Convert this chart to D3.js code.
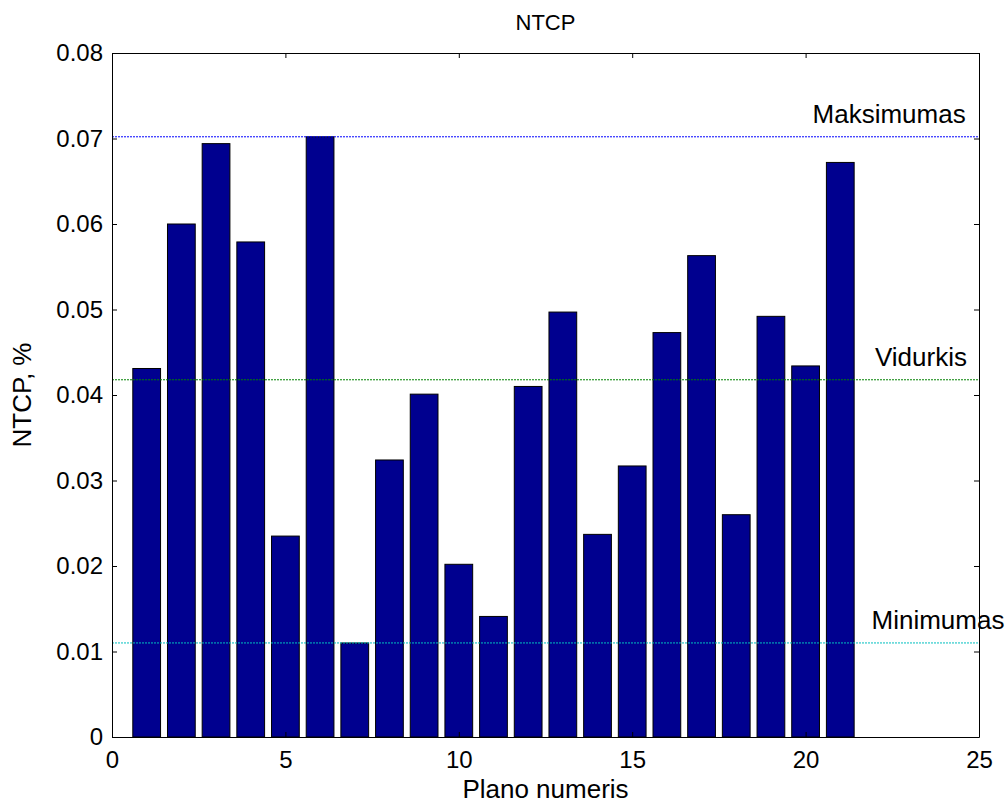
<!DOCTYPE html>
<html>
<head>
<meta charset="utf-8">
<script src="https://cdn.jsdelivr.net/npm/d3@7"></script>
<style>
  html, body { margin: 0; padding: 0; background: #fff; }
  svg text { font-family: "Liberation Sans", Arial, Helvetica, sans-serif; fill: #000; }
</style>
</head>
<body>
<svg id="chart" width="1006" height="806"></svg>
<script>
// Plan numbers and their NTCP values (%)
const planNumbers = d3.range(1, 22);
const ntcpValues = [
  0.0431, 0.0600, 0.0694, 0.0579, 0.0235, 0.0702, 0.0110, 0.0324, 0.0401, 0.0202,
  0.0141, 0.0410, 0.0497, 0.0237, 0.0317, 0.0473, 0.0563, 0.0260, 0.0492, 0.0434,
  0.0672
];
const xTicks = [0, 5, 10, 15, 20, 25];
const yTicks = [0, 0.01, 0.02, 0.03, 0.04, 0.05, 0.06, 0.07, 0.08];
const yTickLabels = ["0", "0.01", "0.02", "0.03", "0.04", "0.05", "0.06", "0.07", "0.08"];

// Reference lines: maximum, mean, minimum
const refNames = ["Maksimumas", "Vidurkis", "Minimumas"];
const refValues = [d3.max(ntcpValues), d3.mean(ntcpValues), d3.min(ntcpValues)];
const refColors = ["#0000ff", "#008000", "#00bfbf"];
const refLabelX = [20.2, 22.0, 21.9];

const svg = d3.select("#chart");
const margin = { left: 112, right: 27, top: 53, bottom: 69 };
const W = 1006, H = 806;

const x = d3.scaleLinear().domain([0, 25]).range([margin.left, W - margin.right]);
const y = d3.scaleLinear().domain([0, 0.08]).range([H - margin.bottom, margin.top]);

const barW = (x(1) - x(0)) * 0.8;

// Bars
svg.append("g")
  .selectAll("rect")
  .data(ntcpValues)
  .join("rect")
  .attr("x", (d, i) => x(planNumbers[i]) - barW / 2)
  .attr("y", d => y(d))
  .attr("width", barW)
  .attr("height", d => y(0) - y(d))
  .attr("fill", "#00008f")
  .attr("stroke", "#000")
  .attr("stroke-width", 1);

// Dotted reference lines across the axes
svg.append("g")
  .selectAll("line")
  .data(refValues)
  .join("line")
  .attr("x1", x(0))
  .attr("x2", x(25))
  .attr("y1", d => y(d))
  .attr("y2", d => y(d))
  .attr("stroke", (d, i) => refColors[i])
  .attr("stroke-width", 1)
  .attr("stroke-dasharray", "2,1");

// Reference line labels
svg.append("g")
  .selectAll("text")
  .data(refValues)
  .join("text")
  .attr("x", (d, i) => x(refLabelX[i]))
  .attr("y", d => y(d) - 14)
  .attr("font-size", 26)
  .text((d, i) => refNames[i]);

// Axes box with inward ticks
const tickLen = 5;
const axisBottom = d3.axisBottom(x).tickValues(xTicks).tickSizeInner(-tickLen).tickSizeOuter(0).tickPadding(14);
const axisTop = d3.axisTop(x).tickValues(xTicks).tickSizeInner(-tickLen).tickSizeOuter(0).tickFormat("");
const axisLeft = d3.axisLeft(y).tickValues(yTicks).tickSizeInner(-tickLen).tickSizeOuter(0).tickPadding(9)
  .tickFormat((d, i) => yTickLabels[i]);
const axisRight = d3.axisRight(y).tickValues(yTicks).tickSizeInner(-tickLen).tickSizeOuter(0).tickFormat("");

function styleAxis(g) {
  g.selectAll(".domain").attr("stroke", "#000").attr("stroke-width", 1);
  g.selectAll(".tick line").attr("stroke", "#000");
  g.selectAll(".tick text").attr("font-size", 24).attr("font-family", "Liberation Sans, Arial, sans-serif").attr("fill", "#000");
}

svg.append("g").attr("transform", `translate(0,${y(0)})`).call(axisBottom).call(styleAxis);
svg.append("g").attr("transform", `translate(0,${y(0.08)})`).call(axisTop).call(styleAxis);
svg.append("g").attr("transform", `translate(${x(0)},0)`).call(axisLeft).call(styleAxis);
svg.append("g").attr("transform", `translate(${x(25)},0)`).call(axisRight).call(styleAxis);

// Title and axis labels
svg.append("text")
  .attr("x", (x(0) + x(25)) / 2)
  .attr("y", 30)
  .attr("text-anchor", "middle")
  .attr("font-size", 22)
  .text("NTCP");

svg.append("text")
  .attr("x", (x(0) + x(25)) / 2)
  .attr("y", 798)
  .attr("text-anchor", "middle")
  .attr("font-size", 26)
  .text("Plano numeris");

svg.append("text")
  .attr("transform", `translate(31,${(y(0) + y(0.08)) / 2}) rotate(-90)`)
  .attr("text-anchor", "middle")
  .attr("font-size", 26)
  .text("NTCP, %");
</script>
</body>
</html>
